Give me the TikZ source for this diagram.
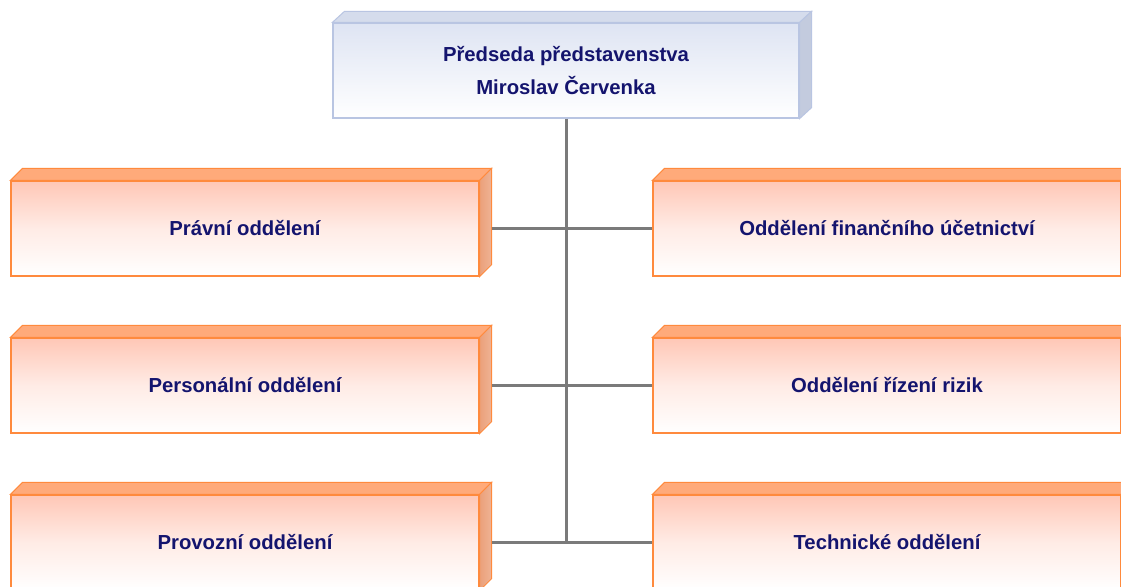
\documentclass[tikz,border=0pt]{standalone}
\usepackage{fontspec}
\setmainfont{Liberation Sans}
\usetikzlibrary{calc}
\definecolor{navy}{HTML}{14146E}
\definecolor{obord}{HTML}{FF8A3D}
\definecolor{otop}{HTML}{FFAA7A}
\definecolor{oside}{HTML}{EBA07A}
\definecolor{ofront}{HTML}{FFC7B6}
\definecolor{bbord}{HTML}{B9C5E2}
\definecolor{btop}{HTML}{D5DCEC}
\definecolor{bside}{HTML}{C3CBDE}
\definecolor{bfront}{HTML}{DEE4F3}
\definecolor{conn}{HTML}{7A7A7A}
\tikzset{
  dept/.style={rectangle, minimum width=468pt, minimum height=95pt, inner sep=0pt,
    top color=ofront, bottom color=white, middle color=ofront!35!white, draw=obord, line width=1.2pt,
    text=navy, font=\fontsize{20.3}{24}\selectfont\bfseries},
  chief/.style={rectangle, minimum width=466pt, minimum height=95pt, inner sep=0pt,
    top color=bfront, bottom color=white, draw=bbord, line width=1.2pt,
    text=navy, font=\fontsize{20.3}{33}\selectfont\bfseries, align=center},
  link/.style={draw=conn, line width=3pt},
}
\newcommand{\ofaces}[1]{%
  \fill[otop, draw=obord, line width=1pt] (#1.north west) -- ++(12pt,12pt) -- ($(#1.north east)+(12pt,12pt)$) -- (#1.north east) -- cycle;
  \shade[left color=oside, right color=oside!80!white, draw=obord, line width=1pt] (#1.north east) -- ++(12pt,12pt) -- ($(#1.south east)+(12pt,12pt)$) -- (#1.south east) -- cycle;
}
\newcommand{\bfaces}[1]{%
  \fill[btop, draw=bbord, line width=1pt] (#1.north west) -- ++(12pt,11pt) -- ($(#1.north east)+(12pt,11pt)$) -- (#1.north east) -- cycle;
  \fill[bside, draw=bbord, line width=1pt] (#1.north east) -- ++(12pt,11pt) -- ($(#1.south east)+(12pt,11pt)$) -- (#1.south east) -- cycle;
}
\begin{document}
\begin{tikzpicture}[x=1pt,y=-1pt]
\useasboundingbox (0,0) rectangle (1121,586);
\clip (0,0) rectangle (1121,586);
\fill[white] (0,0) rectangle (1121,586);
\node[chief] (top) at (566,70.5) {Předseda představenstva\\Miroslav Červenka};
\bfaces{top}
\node[dept] (l1) at (245,228.5) {Právní oddělení};
\node[dept] (l2) at (245,385.5) {Personální oddělení};
\node[dept] (l3) at (245,542.5) {Provozní oddělení};
\node[dept] (r1) at (887,228.5) {Oddělení finančního účetnictví};
\node[dept] (r2) at (887,385.5) {Oddělení řízení rizik};
\node[dept] (r3) at (887,542.5) {Technické oddělení};
\foreach \n in {l1,l2,l3,r1,r2,r3} {\ofaces{\n}}
\coordinate (bend) at (top.south |- l3.east);
\draw[link] (top.south) -- (bend);
\draw[link] ($(l1.east)+(12pt,0)$) -- (r1.west);
\draw[link] ($(l2.east)+(12pt,0)$) -- (r2.west);
\draw[link] ($(l3.east)+(12pt,0)$) -- (r3.west);
\end{tikzpicture}
\end{document}
